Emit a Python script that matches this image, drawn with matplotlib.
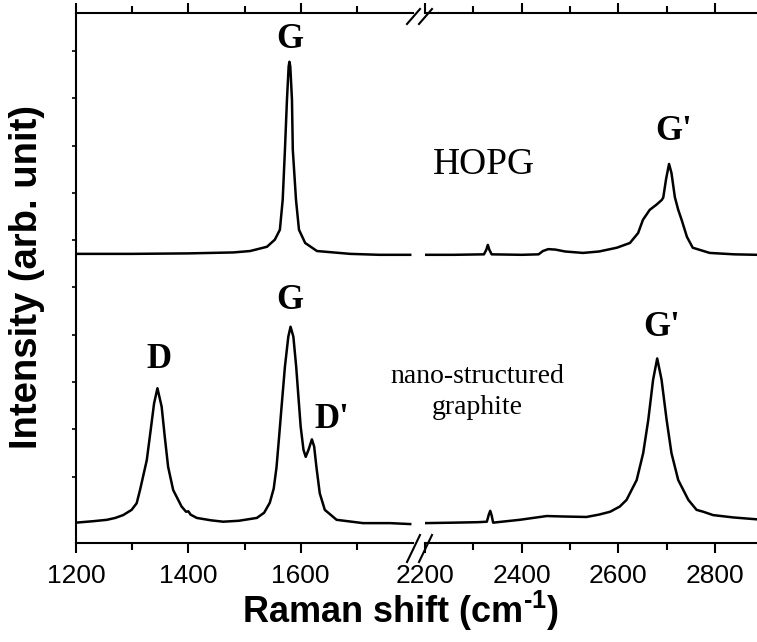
import numpy as np
import matplotlib
matplotlib.use("Agg")
import matplotlib.pyplot as plt
from matplotlib.lines import Line2D

plt.rcParams['font.family'] = ['Liberation Sans', 'DejaVu Sans']
plt.rcParams['mathtext.fontset'] = 'custom'
plt.rcParams['mathtext.rm'] = 'Liberation Sans:bold'
plt.rcParams['mathtext.bf'] = 'Liberation Sans:bold'

# HOPG spectrum (offset upwards), low and high wavenumber windows
hopg_lo_x = [1200, 1300, 1400, 1480, 1510, 1540, 1554, 1563, 1568, 1572, 1575.6, 1578.6, 1580,
             1581.5, 1584.5, 1586, 1591.7, 1597, 1608, 1629, 1688, 1740, 1795]
hopg_lo_y = [6.11, 6.11, 6.12, 6.14, 6.17, 6.26, 6.41, 6.62, 7.25, 8.31, 9.37, 10.07, 10.17,
             10.07, 9.37, 8.31, 7.25, 6.62, 6.34, 6.17, 6.11, 6.09, 6.09]
hopg_hi_x = [2200, 2260, 2322, 2327, 2330, 2333, 2338, 2400, 2435, 2444, 2455, 2470, 2490, 2527,
             2560, 2597, 2624, 2641, 2651, 2665, 2679, 2690, 2693, 2699, 2705, 2710, 2717, 2724,
             2731, 2742, 2754, 2789, 2840, 2887]
hopg_hi_y = [6.09, 6.09, 6.10, 6.20, 6.30, 6.20, 6.10, 6.09, 6.10, 6.17, 6.21, 6.20, 6.16, 6.13,
             6.16, 6.24, 6.34, 6.55, 6.83, 7.04, 7.15, 7.25, 7.30, 7.70, 8.01, 7.82, 7.31, 7.04,
             6.83, 6.47, 6.24, 6.13, 6.10, 6.09]

# nano-structured graphite spectrum
nano_lo_x = [1200, 1230, 1255, 1270, 1284, 1299, 1308, 1314, 1326, 1333, 1339, 1345, 1352.5, 1358,
             1364, 1373, 1388, 1396, 1400, 1404, 1415, 1440, 1462, 1490, 1522, 1535, 1545, 1552,
             1557, 1562, 1566, 1572, 1578, 1582, 1587, 1592, 1596, 1600, 1605, 1609, 1614, 1620,
             1624, 1628, 1634, 1643, 1664, 1711, 1759, 1795]
nano_lo_y = [0.43, 0.46, 0.49, 0.53, 0.59, 0.70, 0.84, 1.12, 1.75, 2.39, 2.95, 3.27, 2.88, 2.25,
             1.61, 1.12, 0.77, 0.66, 0.67, 0.60, 0.53, 0.48, 0.45, 0.47, 0.53, 0.64, 0.85, 1.15,
             1.60, 2.30, 2.88, 3.73, 4.36, 4.57, 4.36, 3.73, 3.09, 2.46, 1.97, 1.82, 1.97, 2.19,
             2.04, 1.61, 1.05, 0.70, 0.49, 0.42, 0.42, 0.40]
nano_hi_x = [2200, 2260, 2310, 2328, 2332, 2335, 2338, 2341, 2396, 2452, 2486, 2534, 2560, 2583,
             2603, 2617, 2638, 2651.5, 2662, 2672, 2680.5, 2689.5, 2700, 2710, 2724, 2745, 2762,
             2776, 2796, 2838, 2887]
nano_hi_y = [0.42, 0.43, 0.44, 0.45, 0.60, 0.68, 0.58, 0.43, 0.49, 0.57, 0.56, 0.55, 0.60, 0.66,
             0.77, 0.91, 1.33, 1.90, 2.60, 3.45, 3.90, 3.45, 2.60, 1.90, 1.33, 0.91, 0.70, 0.66,
             0.59, 0.54, 0.50]

lo_major = [1200, 1400, 1600]
lo_minor = [1300, 1500, 1700]
hi_major = [2200, 2400, 2600, 2800]
hi_minor = [2300, 2500, 2700]
y_ticks = [1.4 + k for k in range(10)]

W, H = 757, 642
fig = plt.figure(figsize=(W / 100, H / 100), dpi=100)


def fx(px):
    return px / W


def fy(py):
    return 1 - py / H


ax1 = fig.add_axes([fx(76), fy(543), (413 - 76) / W, (543 - 13) / H])
ax2 = fig.add_axes([fx(425), fy(543), (757 - 425) / W, (543 - 13) / H])

lw = 1.8
ax1.plot(hopg_lo_x, hopg_lo_y, color='black', lw=lw)
ax1.plot(nano_lo_x, nano_lo_y, color='black', lw=lw)
ax2.plot(hopg_hi_x, hopg_hi_y, color='black', lw=lw)
ax2.plot(nano_hi_x, nano_hi_y, color='black', lw=lw)

ax1.set_xlim(1200, 1800)
ax2.set_xlim(2200, 2887)
for ax in (ax1, ax2):
    ax.set_ylim(0, 11.2)
    for s in ax.spines.values():
        s.set_linewidth(1.5)
    ax.tick_params(axis='x', which='major', direction='out', length=7, width=1.5,
                   labelsize=19, pad=8, top=True)
    ax.tick_params(axis='x', which='minor', direction='out', length=5, width=1.5, top=True)
    ax.tick_params(axis='x', which='both', labeltop=False)

ax1.set_xticks(lo_major)
ax1.set_xticks(lo_minor, minor=True)
ax2.set_xticks(hi_major)
ax2.set_xticks(hi_minor, minor=True)

ax1.spines['right'].set_visible(False)
ax2.spines['left'].set_visible(False)
ax2.spines['right'].set_visible(False)
ax1.set_yticks(y_ticks)
ax1.tick_params(axis='y', direction='out', length=3, width=1.2, labelleft=False)
ax2.tick_params(axis='y', left=False, labelleft=False)

# break marks on the x axis
for x0 in (407, 419):
    for (ya, yb) in ((24, 9), (562, 535)):
        fig.add_artist(Line2D([fx(x0), fx(x0 + 13)], [fy(ya), fy(yb)],
                              color='black', lw=1.5, transform=fig.transFigure))

fig.text(fx(401), fy(611), r'Raman shift (cm$^{\text{-1}}$)', ha='center', va='center',
         fontsize=26, fontweight='bold')
fig.text(fx(27), fy(277), 'Intensity (arb. unit)', ha='center', va='center',
         rotation=90, fontsize=27.5, fontweight='bold')

serif = ['Liberation Serif', 'DejaVu Serif']
peak_labels = [('G', 290, 40), ("G'", 674, 131), ('D', 159, 359), ('G', 290, 300),
               ("D'", 332, 419), ("G'", 662, 328)]
for txt, px, py in peak_labels:
    fig.text(fx(px), fy(py), txt, ha='center', va='center', fontsize=25,
             fontweight='bold', family=serif)

fig.text(fx(484), fy(165), 'HOPG', ha='center', va='center', fontsize=27, family=serif)
fig.text(fx(477), fy(392), 'nano-structured\ngraphite', ha='center', va='center',
         fontsize=20, family=serif, linespacing=1.35)

fig.savefig('out.png', dpi=100)
